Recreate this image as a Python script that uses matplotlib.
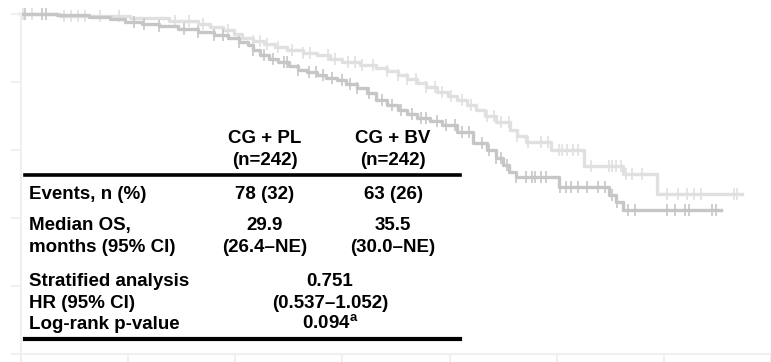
import numpy as np
import matplotlib.pyplot as plt

plt.rcParams['font.family'] = ['Liberation Sans', 'DejaVu Sans']

# Kaplan-Meier step points (months, survival)
pl_time = [0, 2.0, 3.8, 5.0, 5.8, 6.8, 7.7, 8.8, 9.9, 10.8, 11.6, 12.2, 12.7, 13.0, 13.4, 13.9,
           14.4, 15.0, 15.5, 16.0, 16.6, 17.1, 17.7, 18.2, 18.8, 19.4, 19.9, 20.5, 21.1, 21.6,
           22.2, 22.9, 23.6, 24.4, 25.3, 26.1, 26.6, 27.0, 27.3, 27.7, 30.1, 32.9, 33.3, 33.7,
           39.2]
pl_surv = [1.0, 0.996, 0.991, 0.985, 0.976, 0.971, 0.965, 0.956, 0.947, 0.938, 0.929, 0.918,
           0.909, 0.895, 0.879, 0.868, 0.859, 0.847, 0.835, 0.828, 0.821, 0.813, 0.806, 0.794,
           0.782, 0.768, 0.747, 0.732, 0.718, 0.706, 0.694, 0.684, 0.674, 0.652, 0.621, 0.600,
           0.576, 0.556, 0.535, 0.521, 0.491, 0.468, 0.447, 0.424, 0.424]
pl_cens = [0.2, 1.2, 1.4, 6.3, 6.9, 7.7, 9.1, 9.9, 10.8, 11.3, 12.2, 13.0, 13.6, 14.1, 14.7,
           14.9, 15.5, 16.1, 16.5, 16.9, 17.4, 18.0, 18.4, 18.8, 19.5, 20.2, 20.8, 21.3, 21.9,
           22.4, 22.7, 23.3, 23.8, 24.3, 24.7, 25.1, 25.8, 26.2, 26.6, 26.9, 27.2, 27.7, 28.3,
           28.6, 28.8, 29.1, 29.4, 30.2, 30.5, 30.8, 31.2, 31.7, 32.3, 32.7, 33.1, 33.4, 34.0,
           34.4, 36.2, 36.6, 37.2, 37.4, 38.7, 38.9]

bv_time = [0, 2.2, 6.1, 8.3, 9.9, 10.6, 11.3, 11.9, 12.4, 13.0, 13.6, 14.2, 14.9, 15.8, 16.6,
           17.3, 18.0, 19.0, 19.9, 20.5, 21.1, 21.6, 22.2, 22.7, 23.3, 23.9, 24.4, 25.0, 25.5,
           26.0, 26.6, 27.4, 27.8, 28.3, 29.7, 31.5, 33.7, 35.6, 40.4]
bv_surv = [1.0, 0.994, 0.988, 0.979, 0.971, 0.962, 0.953, 0.941, 0.929, 0.921, 0.912, 0.903,
           0.894, 0.886, 0.879, 0.869, 0.859, 0.850, 0.841, 0.831, 0.821, 0.809, 0.797, 0.784,
           0.771, 0.759, 0.747, 0.732, 0.718, 0.700, 0.682, 0.659, 0.641, 0.624, 0.600, 0.553,
           0.529, 0.471, 0.471]
bv_cens = [0.1, 0.6, 2.4, 2.8, 3.2, 3.6, 4.4, 5.5, 8.6, 9.4, 10.2, 11.6, 13.0, 13.4, 13.8, 14.4,
           15.2, 15.8, 16.2, 17.2, 17.6, 18.3, 18.7, 19.1, 19.7, 20.5, 21.1, 21.6, 22.1, 22.7,
           23.2, 23.6, 24.1, 24.7, 25.2, 26.1, 26.5, 26.9, 27.3, 27.8, 28.4, 29.1, 29.5, 30.1,
           30.3, 30.6, 30.9, 31.2, 31.9, 32.9, 33.1, 33.3, 33.6, 33.9, 34.2, 34.8, 36.2, 36.8,
           37.3, 37.7, 38.1, 39.9, 40.1]

x_ticks = [0, 6, 12, 18, 24, 30, 36, 42]
y_ticks = [0, 0.2, 0.4, 0.6, 0.8, 1.0]

# table rows: (left label, CG + PL, CG + BV)
table_rows = [
    ('', 'CG + PL', 'CG + BV'),
    ('', '(n=242)', '(n=242)'),
    ('Events, n (%)', '78 (32)', '63 (26)'),
    ('Median OS,', '29.9', '35.5'),
    ('months (95% CI)', '(26.4–NE)', '(30.0–NE)'),
]
hr_rows = [
    ('Stratified analysis', '0.751'),
    ('HR (95% CI)', '(0.537–1.052)'),
    ('Log-rank p-value', '0.094$^{\\mathregular{a}}$'),
]
row_base = [143, 165, 199, 230, 252]
hr_base = [286, 308, 329]


def surv_at(times, surv, t):
    i = np.searchsorted(times, t, side='right') - 1
    return np.array(surv)[i]


fig = plt.figure(figsize=(7.71, 3.62), dpi=100)
ax = fig.add_axes([21 / 771, 8 / 362, 750 / 771, 340 / 362])

for times, surv, cens, c in [(bv_time, bv_surv, bv_cens, '#e0e0e0'),
                             (pl_time, pl_surv, pl_cens, '#c6c6c6')]:
    ax.step(times, surv, where='post', color=c, lw=2.4, clip_on=False)
    ax.plot(cens, surv_at(times, surv, cens), ls='none', marker='|', ms=8, mew=1.2,
            color=c, clip_on=False)

ax.set_xlim(0, 750 / 18)
ax.set_ylim(0, 1)
ax.set_xticks(x_ticks)
ax.set_yticks(y_ticks)
ax.tick_params(colors='#f0f0f0', length=7, width=1.5, labelbottom=False, labelleft=False)
for s in ['top', 'right']:
    ax.spines[s].set_visible(False)
for s in ['left', 'bottom']:
    ax.spines[s].set_color('#f0f0f0')
    ax.spines[s].set_linewidth(1.5)

# summary table
fs = 13.5
kw = dict(va='baseline', fontsize=fs, fontweight='bold')
for (lab, a, b), yb in zip(table_rows, row_base):
    y = 1 - yb / 362
    fig.text(29 / 771, y, lab, ha='left', **kw)
    fig.text(265 / 771, y, a, ha='center', **kw)
    fig.text(393 / 771, y, b, ha='center', **kw)
for (lab, v), yb in zip(hr_rows, hr_base):
    y = 1 - yb / 362
    fig.text(29 / 771, y, lab, ha='left', **kw)
    fig.text(330 / 771, y, v, ha='center', **kw)

fig.add_artist(plt.Line2D([25 / 771, 460 / 771], [1 - 175 / 362] * 2, color='black', lw=2.6))
fig.add_artist(plt.Line2D([25 / 771, 460 / 771], [1 - 339 / 362] * 2, color='black', lw=3))

fig.savefig('out.png', dpi=100)
